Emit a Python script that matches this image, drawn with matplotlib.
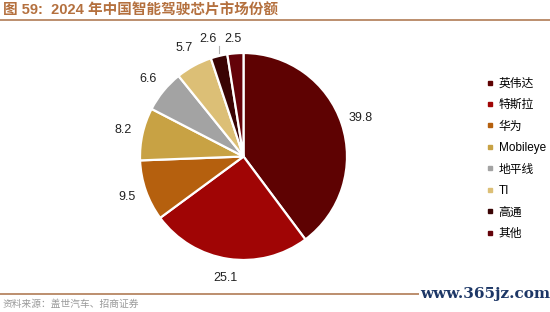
import matplotlib.pyplot as plt
from matplotlib.lines import Line2D
import numpy as np

plt.rcParams['font.family'] = ['Liberation Sans', 'Noto Sans CJK SC', 'DejaVu Sans']

empresas = ['英伟达', '特斯拉', '华为', 'Mobileye', '地平线', 'TI', '高通', '其他']
cuota = [39.8, 25.1, 9.5, 8.2, 6.6, 5.7, 2.6, 2.5]
colores = ['#5e0202', '#a00505', '#b5600e', '#c8a244', '#a3a3a3', '#dcbf76', '#3a0404', '#640209']

titulo = '图 59:  2024 年中国智能驾驶芯片市场份额'
fuente = '资料来源：盖世汽车、招商证券'

fig = plt.figure(figsize=(5.5, 3.12), dpi=100)

# pie centred at (243.5, 156.5) px, radius 103.5 px
ax = fig.add_axes([140 / 550, (312 - 260) / 312, 207 / 550, 207 / 312])
wedges, _ = ax.pie(cuota, colors=colores, startangle=90, counterclock=False,
                   wedgeprops=dict(edgecolor='white', linewidth=1.6))
ax.set_xlim(-1, 1)
ax.set_ylim(-1, 1)
ax.set_aspect('equal')
ax.axis('off')

# value labels outside the slices
total = sum(cuota)
acum = 0
for i, v in enumerate(cuota):
    mid = np.deg2rad(90 - (acum + v / 2) / total * 360)
    acum += v
    r = 1.19
    x, y = r * np.cos(mid), r * np.sin(mid)
    if v < 3:
        x += -0.06 if i == 6 else -0.01
        y = 1.14
        if i == 6:
            ax.plot([-0.235, -0.235], [1.0, 1.07], color='#b0b0b0', lw=0.8, clip_on=False)
    ax.text(x, y, str(v), ha='center', va='center', fontsize=9, color='#222222',
            clip_on=False)

# legend
handles = [Line2D([], [], marker='s', linestyle='none', markersize=3.5,
                  markerfacecolor=c, markeredgecolor=c) for c in colores]
fig.legend(handles, empresas, loc='upper left', bbox_to_anchor=(481 / 550, 1 - 73 / 312),
           frameon=False, fontsize=8.5, handletextpad=0.3, labelspacing=0.8,
           handlelength=0.8, borderaxespad=0)

# title and rules
fig.text(3 / 550, 1 - 11 / 312, titulo, fontsize=10.5, fontweight='bold', color='#b4703e',
         va='center', ha='left', family=['Liberation Sans', 'Noto Sans CJK SC'])
fig.add_artist(Line2D([0, 1], [1 - 20 / 312, 1 - 20 / 312], color='#b07b55', lw=1.2))
fig.add_artist(Line2D([0, 1], [1 - 294 / 312, 1 - 294 / 312], color='#b07b55', lw=1.2))
fig.text(3 / 550, 1 - 304 / 312, fuente, fontsize=7, color='#9a9a9a', va='center',
         ha='left', family=['Noto Sans CJK SC'])
fig.text(485 / 550, 1 - 294 / 312, 'www.365jz.com', fontsize=11, fontweight='bold',
         color='#1d3766', va='center', ha='center', family=['DejaVu Serif'],
         bbox=dict(facecolor='white', edgecolor='none', pad=1))

fig.savefig('out.png', dpi=100)
